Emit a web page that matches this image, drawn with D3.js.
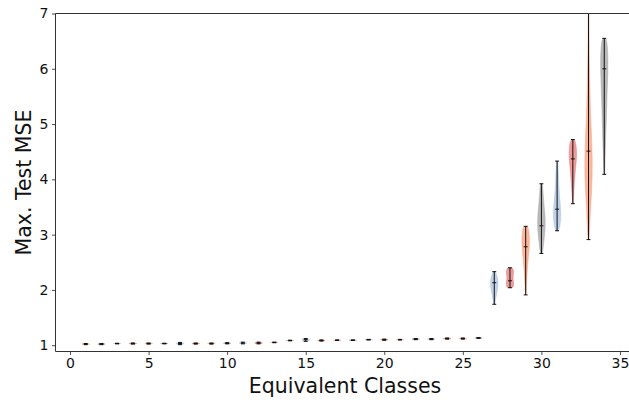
<!DOCTYPE html>
<html><head><meta charset="utf-8">
<script src="https://cdn.jsdelivr.net/npm/d3@7"></script>
<style>body{margin:0;background:#fff}svg{display:block}text{font-family:"DejaVu Sans",sans-serif}</style>
</head><body><svg id="c" width="629" height="402"></svg>
<script>
const classes = [1,2,3,4,5,6,7,8,9,10,11,12,13,14,15,16,17,18,19,20,21,22,23,24,25,26,27,28,29,30,31,32,33,34];
const medians = [1.02,1.02,1.03,1.03,1.03,1.03,1.03,1.03,1.03,1.035,1.04,1.04,1.05,1.085,1.10,1.085,1.09,1.09,1.10,1.10,1.10,1.11,1.11,1.12,1.12,1.13,
                 2.13,2.165,2.78,3.16,3.46,4.37,4.51,6.00];
const mins    = [1.01,1.01,1.025,1.02,1.02,1.025,1.01,1.02,1.02,1.025,1.025,1.025,1.045,1.08,1.07,1.075,1.085,1.085,1.095,1.09,1.095,1.10,1.10,1.11,1.11,1.125,
                 1.74,2.04,1.91,2.66,3.07,3.56,2.91,4.09];
const maxs    = [1.03,1.03,1.035,1.04,1.04,1.035,1.05,1.04,1.04,1.045,1.055,1.055,1.055,1.09,1.12,1.095,1.095,1.095,1.105,1.11,1.105,1.12,1.12,1.13,1.13,1.135,
                 2.33,2.40,3.15,3.92,4.33,4.72,7.40,6.55];
const smallProfile = [0.3,0.9,1.0,0.9,0.3];
const profiles = [
  ...Array(26).fill(smallProfile),
  [0.15,0.35,0.6,0.9,1.0,0.8,0.3],
  [0.8,1.0,0.85,0.75,0.85,0.95,0.7],
  [0.1,0.2,0.35,0.6,0.9,1.0,0.7],
  [0.3,0.6,0.95,1.0,0.7,0.45,0.3],
  [0.5,1.0,0.9,0.6,0.4,0.3,0.2],
  [0.1,0.2,0.4,0.6,0.9,1.0,0.6],
  [0.15,0.5,1.0,0.9,0.5,0.3,0.15,0.1,0.08],
  [0.1,0.25,0.45,0.6,0.8,1.0,0.7]
];
const palette = ["#e8797b","#fb9f7c","#a3a3a3","#abc3df"]; // by class mod 4
const xTicks = [0,5,10,15,20,25,30,35];
const yTicks = [1,2,3,4,5,6,7];

const svg = d3.select("#c");
const L = 55.5, T = 13.5, R = 634.5, B = 351.5;
const x = d3.scaleLinear().domain([-0.925, 35.925]).range([L, R]);
const y = d3.scaleLinear().domain([0.886, 7]).range([B, T]);
const halfW = 0.25, capW = 0.125;

svg.append("clipPath").attr("id","clip").append("rect")
  .attr("x",L).attr("y",T).attr("width",R-L).attr("height",B-T);
const g = svg.append("g").attr("clip-path","url(#clip)");

classes.forEach((c,i)=>{
  const prof = profiles[i], n = prof.length;
  const pts = prof.map((w,k)=>({v: mins[i] + (maxs[i]-mins[i])*k/(n-1), w}));
  pts.unshift({v:mins[i], w:0}); pts.push({v:maxs[i], w:0});
  const area = d3.area().curve(d3.curveBasis)
    .y(d=>y(d.v)).x0(d=>x(c - halfW*d.w)).x1(d=>x(c + halfW*d.w));
  const col = palette[c % 4];
  g.append("path").attr("d", area(pts)).attr("fill", col).attr("fill-opacity",0.75)
    .attr("stroke", col).attr("stroke-opacity",0.6).attr("stroke-width",0.8);
  const lc = "#111";
  g.append("line").attr("x1",x(c)).attr("x2",x(c)).attr("y1",y(mins[i])).attr("y2",y(maxs[i]))
    .attr("stroke",lc).attr("stroke-width",1);
  [mins[i], medians[i], maxs[i]].forEach(v=>{
    g.append("line").attr("x1",x(c-capW)).attr("x2",x(c+capW)).attr("y1",y(v)).attr("y2",y(v))
      .attr("stroke",lc).attr("stroke-width",1);
  });
});

// spines
const sp = "#333";
svg.append("line").attr("x1",L).attr("x2",L).attr("y1",T).attr("y2",B).attr("stroke",sp).attr("stroke-width",1);
svg.append("line").attr("x1",L).attr("x2",R).attr("y1",B).attr("y2",B).attr("stroke",sp).attr("stroke-width",1);
svg.append("line").attr("x1",L).attr("x2",R).attr("y1",T).attr("y2",T).attr("stroke",sp).attr("stroke-width",1);
svg.append("line").attr("x1",R).attr("x2",R).attr("y1",T).attr("y2",B).attr("stroke",sp).attr("stroke-width",1);

// axes
const xAxis = d3.axisBottom(x).tickValues(xTicks).tickSize(3.5).tickPadding(3.5).tickFormat(d3.format("d"));
const gx = svg.append("g").attr("transform",`translate(0,${B})`).call(xAxis);
const yAxis = d3.axisLeft(y).tickValues(yTicks).tickSize(3.5).tickPadding(3.5).tickFormat(d3.format("d"));
const gy = svg.append("g").attr("transform",`translate(${L},0)`).call(yAxis);
[gx,gy].forEach(a=>{
  a.select(".domain").remove();
  a.selectAll(".tick line").attr("stroke","#222").attr("stroke-width",0.8);
  a.selectAll(".tick text").attr("font-size",14).attr("fill","#111").style("font-family","DejaVu Sans");
});

svg.append("text").attr("x",(L+R)/2).attr("y",393).attr("text-anchor","middle")
  .attr("font-size",20.5).attr("fill","#111").text("Equivalent Classes");
svg.append("text").attr("transform",`translate(31,${(T+B)/2}) rotate(-90)`).attr("text-anchor","middle")
  .attr("font-size",20.5).attr("fill","#111").text("Max. Test MSE");
</script></body></html>
